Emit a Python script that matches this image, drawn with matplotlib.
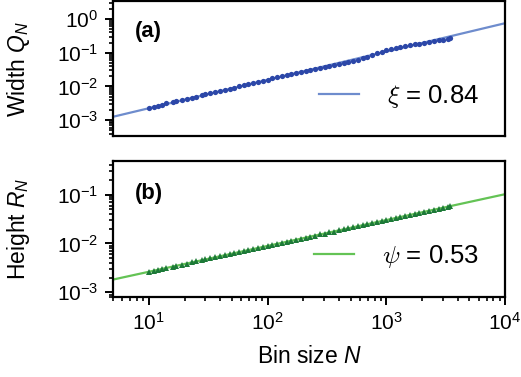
import matplotlib
matplotlib.use("Agg")
import matplotlib.pyplot as plt
from matplotlib.ticker import NullFormatter, LogLocator
import numpy as np

plt.rcParams['font.family'] = ['Liberation Sans', 'DejaVu Sans']
plt.rcParams['mathtext.fontset'] = 'custom'
plt.rcParams['mathtext.rm'] = 'Liberation Sans'
plt.rcParams['mathtext.it'] = 'Liberation Sans:italic'
plt.rcParams['mathtext.bf'] = 'Liberation Sans:bold'

# bin sizes (same for both panels)
bin_size = [10, 11, 12, 13, 14, 16, 17, 19, 21, 23, 25, 28, 30, 33, 36, 40,
            44, 48, 52, 58, 63, 69, 76, 83, 91, 100, 110, 120, 132, 145, 158,
            174, 191, 209, 229, 251, 275, 302, 331, 363, 398, 437, 479, 525,
            575, 631, 692, 759, 832, 912, 1000, 1096, 1202, 1318, 1445, 1585,
            1738, 1905, 2089, 2291, 2512, 2754, 3020, 3311, 3467]

# panel (a): width Q_N
width_q = [2.31e-3, 2.49e-3, 2.70e-3, 2.90e-3, 3.14e-3, 3.41e-3, 3.66e-3,
           3.96e-3, 4.31e-3, 4.62e-3, 4.98e-3, 5.41e-3, 5.86e-3, 6.31e-3,
           6.78e-3, 7.36e-3, 8.00e-3, 8.59e-3, 9.25e-3, 1.00e-2, 1.09e-2,
           1.17e-2, 1.26e-2, 1.37e-2, 1.48e-2, 1.60e-2, 1.73e-2, 1.85e-2,
           2.01e-2, 2.17e-2, 2.34e-2, 2.52e-2, 2.71e-2, 2.92e-2, 3.13e-2,
           3.38e-2, 3.61e-2, 3.87e-2, 4.15e-2, 4.45e-2, 4.75e-2, 5.08e-2,
           5.42e-2, 5.79e-2, 6.21e-2, 6.84e-2, 7.66e-2, 8.55e-2, 9.68e-2,
           1.08e-1, 1.18e-1, 1.29e-1, 1.38e-1, 1.48e-1, 1.57e-1, 1.67e-1,
           1.77e-1, 1.85e-1, 1.96e-1, 2.07e-1, 2.18e-1, 2.31e-1, 2.44e-1,
           2.60e-1, 2.67e-1]

# panel (b): height R_N
height_r = [2.63e-3, 2.77e-3, 2.89e-3, 3.05e-3, 3.21e-3, 3.35e-3, 3.53e-3,
            3.70e-3, 3.88e-3, 4.09e-3, 4.28e-3, 4.51e-3, 4.71e-3, 4.97e-3,
            5.22e-3, 5.46e-3, 5.75e-3, 6.02e-3, 6.35e-3, 6.64e-3, 6.99e-3,
            7.31e-3, 7.70e-3, 8.07e-3, 8.50e-3, 8.90e-3, 9.37e-3, 9.80e-3,
            1.04e-2, 1.08e-2, 1.14e-2, 1.19e-2, 1.26e-2, 1.31e-2, 1.39e-2,
            1.44e-2, 1.53e-2, 1.59e-2, 1.69e-2, 1.76e-2, 1.86e-2, 1.94e-2,
            2.05e-2, 2.14e-2, 2.26e-2, 2.36e-2, 2.49e-2, 2.60e-2, 2.75e-2,
            2.87e-2, 3.03e-2, 3.16e-2, 3.34e-2, 3.49e-2, 3.68e-2, 3.84e-2,
            4.06e-2, 4.24e-2, 4.48e-2, 4.67e-2, 4.93e-2, 5.14e-2, 5.43e-2,
            5.68e-2, 5.81e-2]

# fitted power laws
xi, q_pref = 0.84, 3.26e-4
psi, r_pref = 0.53, 7.76e-4
fit_range = [5, 1e4]

fig = plt.figure(figsize=(5.21, 3.77), dpi=100)
ax_a = fig.add_axes([0.2169, 0.6393, 0.7524, 0.358])
ax_b = fig.add_axes([0.2169, 0.2122, 0.7524, 0.3607])

n_fit = np.array(fit_range)

ax_a.plot(n_fit, q_pref * n_fit ** xi, color='#6e8ccd', lw=1.6,
          label=r'$\xi$ = %.2f' % xi, zorder=2)
ax_a.plot(bin_size, width_q, 'o', color='#2c47a8', ms=3.8, mew=0, zorder=3)

ax_b.plot(n_fit, r_pref * n_fit ** psi, color='#64c355', lw=1.6,
          label=r'$\psi$ = %.2f' % psi, zorder=2)
ax_b.plot(bin_size, height_r, '^', color='#1d7a38', ms=4.2, mew=0, zorder=3)

for ax in (ax_a, ax_b):
    ax.set_xscale('log')
    ax.set_yscale('log')
    ax.set_xlim(5, 1e4)
    for a in (ax.xaxis, ax.yaxis):
        a.set_major_locator(LogLocator(base=10, numticks=20))
        a.set_minor_locator(LogLocator(base=10, subs=np.arange(2, 10),
                                       numticks=200))
        a.set_minor_formatter(NullFormatter())
    for s in ax.spines.values():
        s.set_linewidth(1.6)
    ax.tick_params(which='major', direction='out', length=5.5, width=1.4,
                   pad=5)
    ax.tick_params(which='minor', direction='out', length=3, width=1.2)
    ax.tick_params(axis='y', labelsize=15)
    ax.tick_params(axis='x', labelsize=15)
    leg = ax.legend(loc='center right', bbox_to_anchor=(0.934, 0.295),
                    frameon=False, fontsize=18.5, handlelength=1.55,
                    handletextpad=1.1, borderpad=0, borderaxespad=0)
    for t in leg.get_texts():
        t.set_math_fontfamily('cm')

ax_a.set_ylim(3.4e-4, 3.4)
ax_b.set_ylim(8e-4, 0.49)
ax_a.tick_params(axis='x', which='both', bottom=False, labelbottom=False)

ax_a.set_ylabel(r'Width $Q_N$', fontsize=16.5)
ax_b.set_ylabel(r'Height $R_N$', fontsize=16.5)
ax_a.yaxis.set_label_coords(-0.207, 0.5)
ax_b.yaxis.set_label_coords(-0.207, 0.5)
ax_b.set_xlabel(r'Bin size $N$', fontsize=16.5)
ax_b.xaxis.set_label_coords(0.5, -0.355)

ax_a.text(0.056, 0.773, '(a)', transform=ax_a.transAxes, fontsize=15.8,
          fontweight='bold', va='center', ha='left')
ax_b.text(0.056, 0.763, '(b)', transform=ax_b.transAxes, fontsize=15.8,
          fontweight='bold', va='center', ha='left')

fig.savefig('out.png', dpi=100)
